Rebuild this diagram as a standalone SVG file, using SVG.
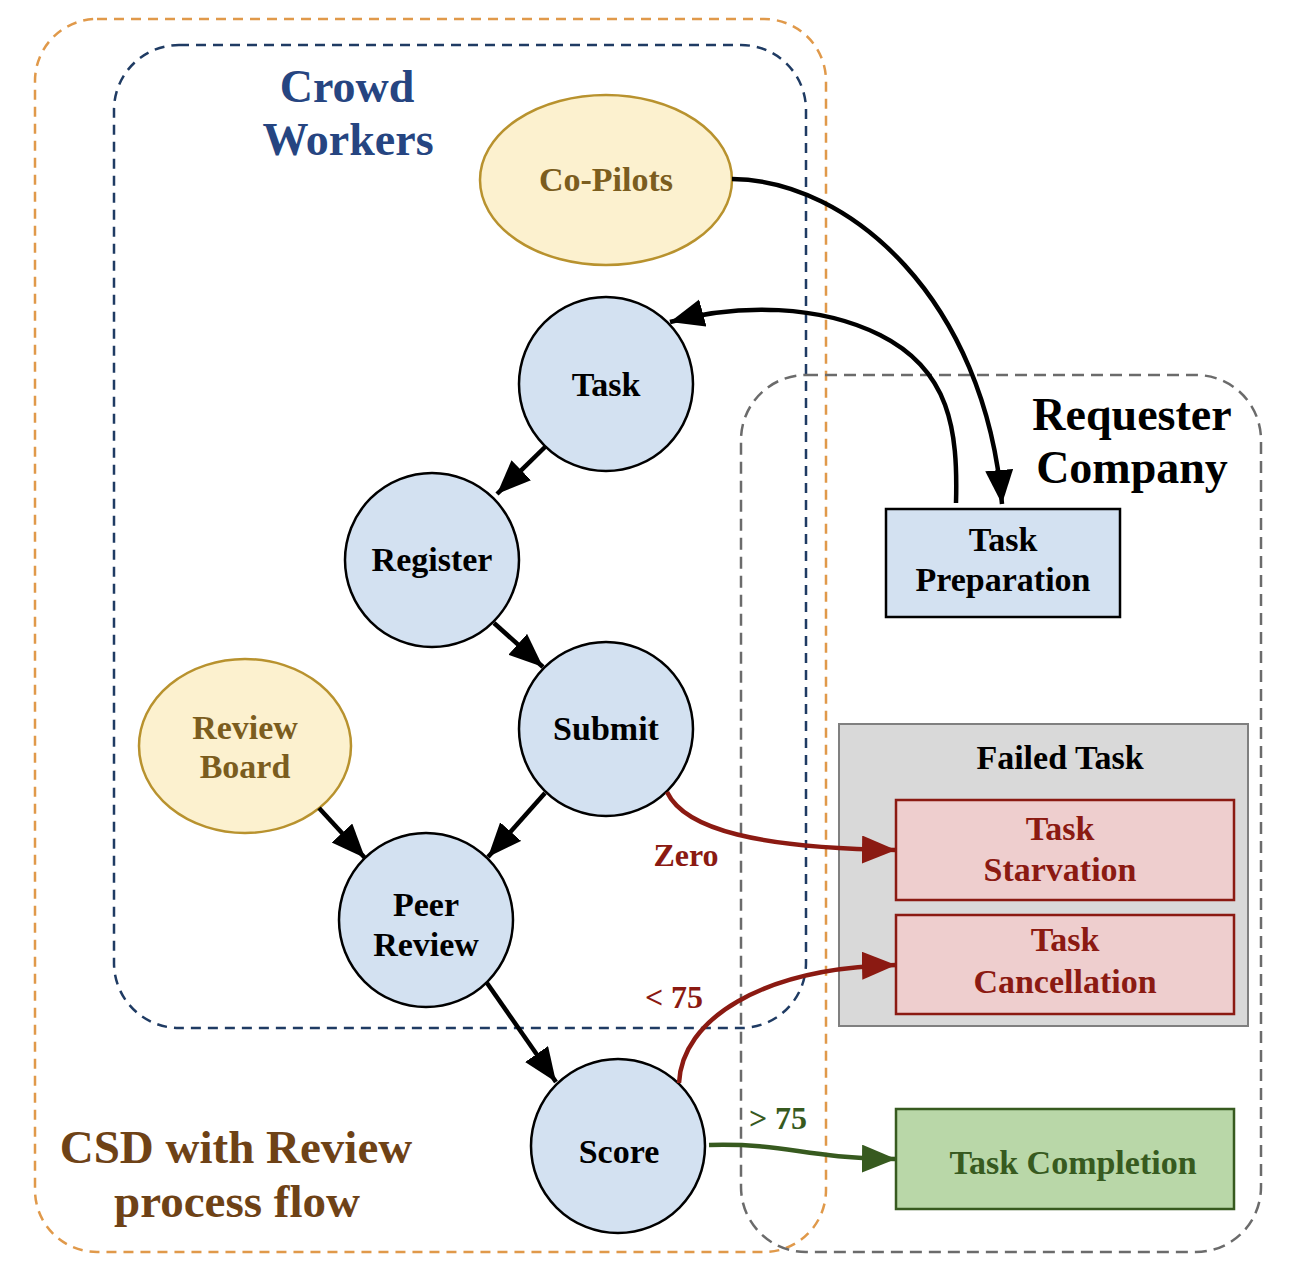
<svg xmlns="http://www.w3.org/2000/svg" width="1290" height="1284" viewBox="0 0 1290 1284">
<style>
text{font-family:"Liberation Serif","Times New Roman",serif;font-weight:bold;text-anchor:middle}
.node{fill:#d3e1f1;stroke:#000;stroke-width:2.5}
.yel{fill:#fcf1cf;stroke:#b8922e;stroke-width:2.5}
.t{font-size:34px;fill:#000}
.ty{font-size:34px;fill:#7b5d1e}
.tr{font-size:34px;fill:#8b1a12}
.tg{font-size:34px;fill:#375a1f}
.big{font-size:46px}
.lbl{font-size:32px}
.cont{fill:none;stroke-width:2.5}
.blk{fill:none;stroke:#000;stroke-width:4.5}
.red{fill:none;stroke:#8b1a12;stroke-width:4.5}
.grn{fill:none;stroke:#375a1f;stroke-width:4.5}
</style>
<defs>
<marker id="ab" markerUnits="userSpaceOnUse" markerWidth="40" markerHeight="32" refX="34" refY="14" orient="auto"><path d="M0,0 L34,14 L0,28 Z" fill="#000"/></marker>
<marker id="ar" markerUnits="userSpaceOnUse" markerWidth="40" markerHeight="32" refX="34" refY="14" orient="auto"><path d="M0,0 L34,14 L0,28 Z" fill="#8b1a12"/></marker>
<marker id="ag" markerUnits="userSpaceOnUse" markerWidth="40" markerHeight="32" refX="34" refY="14" orient="auto"><path d="M0,0 L34,14 L0,28 Z" fill="#375a1f"/></marker>
</defs>
<rect width="1290" height="1284" fill="#fff"/>
<g id="containers">
<rect id="csd" class="cont" x="35" y="19" width="791" height="1233" rx="62" stroke="#e0994a" stroke-dasharray="10,7"/>
<rect id="crowd" class="cont" x="114" y="45" width="692" height="983" rx="65" stroke="#1f3b63" stroke-dasharray="10,7"/>
<rect id="requester" class="cont" x="741" y="375" width="520" height="877" rx="65" stroke="#6b6b6b" stroke-dasharray="12,7"/>
</g>
<g id="titles">
<text class="big" x="347" y="102" fill="#264581">Crowd</text>
<text class="big" x="348" y="155" fill="#264581">Workers</text>
<text class="big" x="1132" y="430" fill="#000">Requester</text>
<text class="big" x="1132" y="483" fill="#000">Company</text>
<text x="236" y="1163" font-size="47" fill="#6e4216">CSD with Review</text>
<text x="237" y="1217" font-size="47" fill="#6e4216">process flow</text>
</g>
<g id="failed">
<rect x="839" y="724" width="409" height="302" fill="#d9d9d9" stroke="#808080" stroke-width="2"/>
<text class="t" x="1060" y="769">Failed Task</text>
</g>
<g id="copilots">
<ellipse class="yel" cx="606" cy="180" rx="126" ry="85"/>
<text class="ty" x="606" y="191">Co-Pilots</text>
</g>
<g id="task">
<circle class="node" cx="606" cy="384" r="87"/>
<text class="t" x="606" y="396">Task</text>
</g>
<g id="register">
<circle class="node" cx="432" cy="560" r="87"/>
<text class="t" x="432" y="571">Register</text>
</g>
<g id="submit">
<circle class="node" cx="606" cy="729" r="87"/>
<text class="t" x="606" y="740">Submit</text>
</g>
<g id="reviewboard">
<ellipse class="yel" cx="245" cy="746" rx="106" ry="87"/>
<text class="ty" x="245" y="739">Review</text>
<text class="ty" x="245" y="778">Board</text>
</g>
<g id="peerreview">
<circle class="node" cx="426" cy="920" r="87"/>
<text class="t" x="426" y="916">Peer</text>
<text class="t" x="426" y="956">Review</text>
</g>
<g id="score">
<circle class="node" cx="618" cy="1146" r="87"/>
<text class="t" x="619" y="1163">Score</text>
</g>
<g id="taskprep">
<rect x="886" y="509" width="234" height="108" fill="#d3e1f1" stroke="#000" stroke-width="2.5"/>
<text class="t" x="1003" y="551">Task</text>
<text class="t" x="1003" y="591">Preparation</text>
</g>
<g id="starvation">
<rect x="896" y="800" width="338" height="100" fill="#eecece" stroke="#8b1a12" stroke-width="2.5"/>
<text class="tr" x="1060" y="840">Task</text>
<text class="tr" x="1060" y="881">Starvation</text>
</g>
<g id="cancellation">
<rect x="896" y="915" width="338" height="99" fill="#eecece" stroke="#8b1a12" stroke-width="2.5"/>
<text class="tr" x="1065" y="951">Task</text>
<text class="tr" x="1065" y="993">Cancellation</text>
</g>
<g id="completion">
<rect x="896" y="1109" width="338" height="100" fill="#b9d7a8" stroke="#375a1f" stroke-width="2.5"/>
<text class="tg" x="1073" y="1174">Task Completion</text>
</g>
<g id="connectors">
<path class="blk" d="M732,179 C850,180 985,300 1002,504" marker-end="url(#ab)"/>
<path class="blk" d="M956,503 C958,430 950,370 880,335 C820,305 740,303 670,322" marker-end="url(#ab)"/>
<path class="blk" d="M545,447 L497,494" marker-end="url(#ab)"/>
<path class="blk" d="M494,623 L543,667" marker-end="url(#ab)"/>
<path class="blk" d="M545,793 L488,857" marker-end="url(#ab)"/>
<path class="blk" d="M319,808 L365,858" marker-end="url(#ab)"/>
<path class="blk" d="M487,983 L556,1082" marker-end="url(#ab)"/>
<path class="red" d="M667,792 C685,830 760,848 896,850" marker-end="url(#ar)"/>
<path class="red" d="M679,1083 C682,1020 760,968 896,965" marker-end="url(#ar)"/>
<path class="grn" d="M709,1145 C790,1143 800,1158 896,1159" marker-end="url(#ag)"/>
<text class="lbl" x="686" y="866" fill="#8b1a12">Zero</text>
<text class="lbl" x="674" y="1008" fill="#8b1a12">&lt; 75</text>
<text class="lbl" x="778" y="1129" fill="#375a1f">&gt; 75</text>
</g>
</svg>
